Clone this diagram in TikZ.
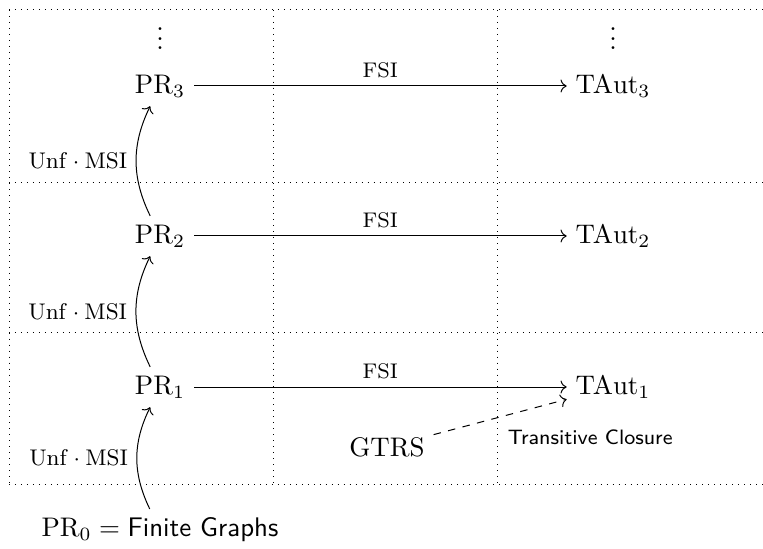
\documentclass[tikz,border=0pt]{standalone}
\usepackage{fix-cm}
\usetikzlibrary{arrows.meta}
\newcommand{\mainsize}{\fontsize{10.8}{13}\selectfont}
\begin{document}
\begin{tikzpicture}[x=0.4016pt,y=-0.4016pt,
  gridline/.style={dotted,line width=0.4pt},
  mainnode/.style={inner sep=3.4pt,font=\mainsize},
  fsiarrow/.style={->},
  unfarrow/.style={->,bend left=26},
  fsilbl/.style={font=\fontsize{8.5}{10}\selectfont},
  unflbl/.style={font=\fontsize{9.1}{11}\selectfont}]
\useasboundingbox (0,0) rectangle (763,549);
% dotted grid
\draw[gridline] (9,10) -- (763,10);
\draw[gridline] (9,183) -- (763,183);
\draw[gridline] (9,332) -- (763,332);
\draw[gridline] (9,484) -- (763,484);
\draw[gridline] (9,10) -- (9,484);
\draw[gridline] (273,10) -- (273,484);
\draw[gridline] (497,10) -- (497,484);
% nodes
\node[anchor=base,font=\mainsize] (vd1) at (160,50) {$\vdots$};
\node[anchor=base,font=\mainsize] (vd2) at (613,50) {$\vdots$};
\node[mainnode] (pr3) at (160,86) {$\mathrm{PR}_3$};
\node[mainnode] (pr2) at (160,236) {$\mathrm{PR}_2$};
\node[mainnode] (pr1) at (160,387) {$\mathrm{PR}_1$};
\node[mainnode] (pr0) at (160,530) {$\mathrm{PR}_0 = {}$\textsf{Finite Graphs}};
\node[mainnode] (ta3) at (613,86) {$\mathrm{TAut}_3$};
\node[mainnode] (ta2) at (613,236) {$\mathrm{TAut}_2$};
\node[mainnode] (ta1) at (613,387) {$\mathrm{TAut}_1$};
\node[mainnode] (gtrs) at (387,447) {$\mathrm{GTRS}$};
% connectors
\draw[fsiarrow] (pr3) -- node[above,fsilbl] {$\mathrm{FSI}$} (ta3);
\draw[fsiarrow] (pr2) -- node[above,fsilbl] {$\mathrm{FSI}$} (ta2);
\draw[fsiarrow] (pr1) -- node[above,fsilbl] {$\mathrm{FSI}$} (ta1);
\draw[unfarrow] (pr0) to node[left,unflbl] {$\mathrm{Unf}\cdot\mathrm{MSI}$} (pr1);
\draw[unfarrow] (pr1) to node[left,unflbl] {$\mathrm{Unf}\cdot\mathrm{MSI}$} (pr2);
\draw[unfarrow] (pr2) to node[left,unflbl] {$\mathrm{Unf}\cdot\mathrm{MSI}$} (pr3);
\draw[->,dashed] (gtrs) -- (ta1);
\node[anchor=west,font=\fontsize{8.35}{10}\sffamily] (tc) at (499,437) {Transitive Closure};
\end{tikzpicture}
\end{document}
